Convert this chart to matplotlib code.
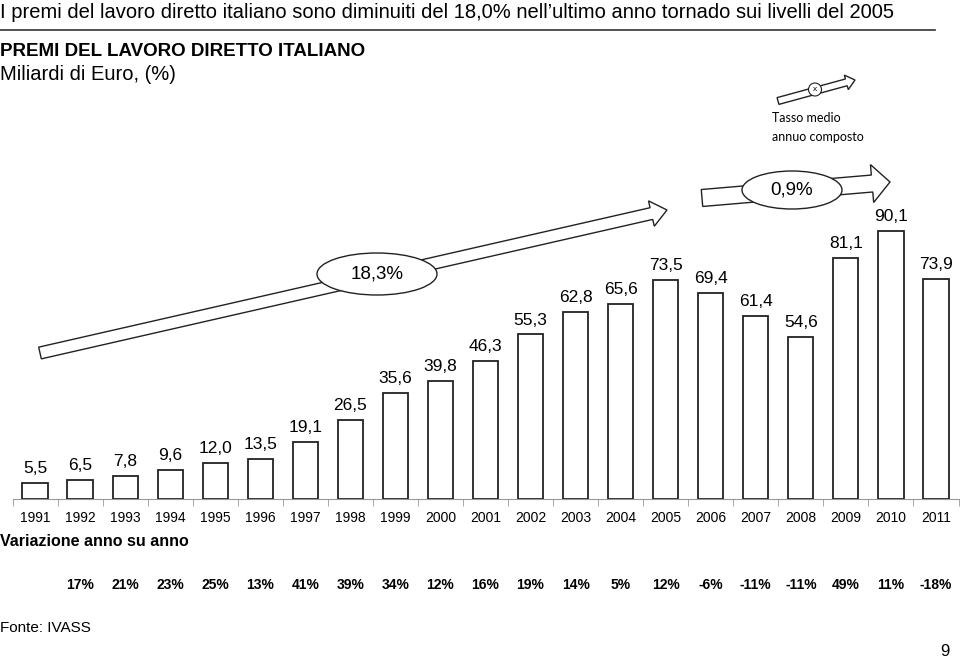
import numpy as np
import matplotlib.pyplot as plt
from matplotlib.patches import Polygon, Ellipse, Circle
import matplotlib.transforms as mtransforms

years = [str(y) for y in range(1991, 2012)]
premi = [5.5, 6.5, 7.8, 9.6, 12.0, 13.5, 19.1, 26.5, 35.6, 39.8, 46.3,
         55.3, 62.8, 65.6, 73.5, 69.4, 61.4, 54.6, 81.1, 90.1, 73.9]
variazione = [17, 21, 23, 25, 13, 41, 39, 34, 12, 16, 19, 14, 5, 12,
              -6, -11, -11, 49, 11, -18]

narrow = ['Liberation Sans Narrow', 'Liberation Sans', 'DejaVu Sans']
plt.rcParams['font.family'] = ['Liberation Sans', 'DejaVu Sans']

fig = plt.figure(figsize=(9.6, 6.62), dpi=100)
# helper: reference pixel coords (origin top-left)
px = mtransforms.Affine2D().scale(1 / 960, -1 / 662).translate(0, 1) + fig.transFigure

ax = fig.add_axes([12.5 / 960, 163 / 662, 946 / 960, 349 / 662])
x = np.arange(len(years))
ax.bar(x, premi, width=0.56, color='white', edgecolor='#222222', linewidth=1.3, zorder=2)
for xi, v in zip(x, premi):
    ax.annotate(f"{v:.1f}".replace('.', ','), (xi, v), xytext=(0, 5),
                textcoords='offset points', ha='center', va='bottom', fontsize=12.5)

ax.set_xlim(-0.5, 20.5)
ax.set_ylim(0, 117.3)
for s in ['left', 'right', 'top']:
    ax.spines[s].set_visible(False)
ax.spines['bottom'].set_color('#999999')
ax.set_yticks([])
ax.set_xticks(x)
ax.set_xticklabels(years, fontsize=10)
ax.tick_params(axis='x', which='major', length=0, pad=9)
ax.set_xticks(np.arange(-0.5, 21, 1), minor=True)
ax.tick_params(axis='x', which='minor', length=5, color='#999999')

# variazione anno su anno
blend = mtransforms.blended_transform_factory(ax.transData, fig.transFigure)
for xi, v in zip(x[1:], variazione):
    ax.text(xi, 1 - 585 / 662, f"{v}%", transform=blend, ha='center', va='center',
            fontsize=10, fontweight='bold', family=narrow)


def block_arrow(p0, p1, w, hw, hl):
    p0, p1 = np.array(p0, float), np.array(p1, float)
    d = p1 - p0
    L = np.hypot(*d)
    u = d / L
    n = np.array([-u[1], u[0]])
    b = p1 - u * hl
    pts = [p0 + n * w / 2, b + n * w / 2, b + n * hw / 2, p1,
           b - n * hw / 2, b - n * w / 2, p0 - n * w / 2]
    return Polygon(pts, closed=True, transform=px, facecolor='white',
                   edgecolor='#222222', linewidth=1.0, zorder=5)


fig.patches.append(block_arrow((40, 353), (667, 210), 12, 26, 16))
fig.patches.append(Ellipse((377, 274), 120, 42, transform=px, facecolor='white',
                           edgecolor='#222222', linewidth=1.0, zorder=6))
fig.text(377 / 960, 1 - 274 / 662, "18,3%", ha='center', va='center', fontsize=13.5, zorder=7)

fig.patches.append(block_arrow((702, 198), (890, 182), 17, 38, 18))
fig.patches.append(Ellipse((792, 190), 100, 38, transform=px, facecolor='white',
                           edgecolor='#222222', linewidth=1.0, zorder=6))
fig.text(792 / 960, 1 - 190 / 662, "0,9%", ha='center', va='center', fontsize=13.5, zorder=7)

# legend
fig.patches.append(block_arrow((778, 101), (855, 80), 7, 15, 9))
fig.patches.append(Circle((815, 89.5), 6.5, transform=px, facecolor='white',
                          edgecolor='#222222', linewidth=0.8, zorder=6))
fig.text(815 / 960, 1 - 89.5 / 662, "x", ha='center', va='center', fontsize=6, zorder=7)
fig.text(772 / 960, 1 - 118 / 662, "Tasso medio", ha='left', va='center', fontsize=9,
         family=['Lato', 'DejaVu Sans'])
fig.text(772 / 960, 1 - 137 / 662, "annuo composto", ha='left', va='center', fontsize=9,
         family=['Lato', 'DejaVu Sans'])

# titles
fig.text(0, 1 - 13 / 662,
         "I premi del lavoro diretto italiano sono diminuiti del 18,0% nell\u2019ultimo anno tornado sui livelli del 2005",
         ha='left', va='center', fontsize=14.5, family=narrow)
fig.add_artist(plt.Line2D([0, 935 / 960], [1 - 30 / 662, 1 - 30 / 662], color='#333333', lw=1.2))
fig.text(0, 1 - 52 / 662, "PREMI DEL LAVORO DIRETTO ITALIANO", ha='left', va='center',
         fontsize=13.5, fontweight='bold', family=narrow)
fig.text(0, 1 - 74 / 662, "Miliardi di Euro, (%)", ha='left', va='center', fontsize=14.5, family=narrow)
fig.text(0, 1 - 541 / 662, "Variazione anno su anno", ha='left', va='center', fontsize=11.5,
         fontweight='bold', family=narrow)
fig.text(0, 1 - 628 / 662, "Fonte: IVASS", ha='left', va='center', fontsize=11, family=narrow)
fig.text(950 / 960, 1 - 651 / 662, "9", ha='right', va='center', fontsize=12, family=narrow)

fig.savefig('out.png', dpi=100, facecolor='white')
